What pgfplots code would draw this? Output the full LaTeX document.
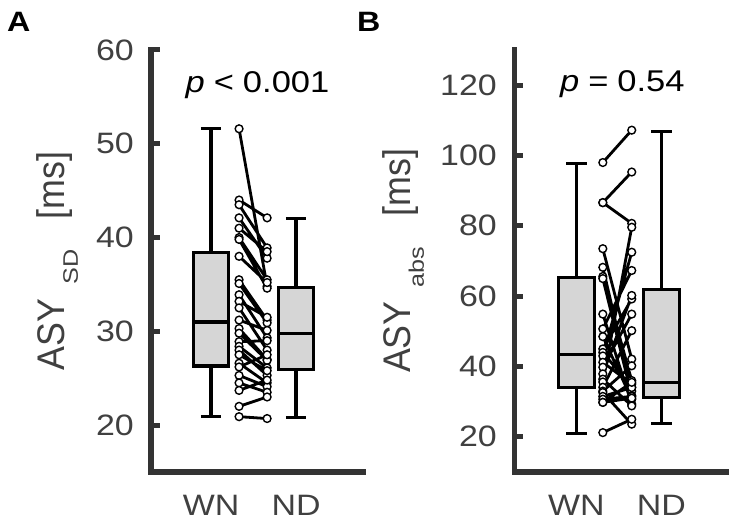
\documentclass[border=0pt]{standalone}
\usepackage{fontspec}
\setmainfont{Liberation Sans}
\newfontfamily\wfont{Liberation Sans}[FakeStretch=1.15]
\newfontfamily\labfont{Liberation Sans}[FakeStretch=0.93]
\newfontfamily\subfont{Liberation Sans}[FakeStretch=1.2]
\usepackage{pgfplots}
\pgfplotsset{compat=1.18}

\definecolor{axgray}{RGB}{51,51,51}
\definecolor{txtgray}{RGB}{64,64,64}
\definecolor{boxgray}{RGB}{214,214,214}

\newcommand{\tickfs}{\wfont\fontsize{29.5bp}{29.5bp}\selectfont}

\pgfplotsset{
  panel/.style={
    scale only axis, width=212bp, height=422bp, anchor=south west,
    axis lines*=left, clip=false,
    axis line style={line width=5bp, color=axgray, line cap=rect},
    xtick={1,2}, xticklabels={WN,ND}, xtick style={draw=none},
    xticklabel style={font=\tickfs, text=txtgray, anchor=base, inner sep=0pt, yshift=-43bp},
    tick align=inside, major tick length=9bp,
    ytick style={line width=5bp, color=axgray},
    yticklabel style={font=\tickfs, text=txtgray, anchor=east, inner sep=0pt, xshift=-17bp},
    /pgf/number format/assume math mode=true,
    ylabel style={font=\labfont\fontsize{38.5bp}{38.5bp}\selectfont, text=txtgray, anchor=base, inner sep=0pt},
  },
  boxfill/.style={fill=boxgray, draw=black, line width=3.2bp, mark=none},
  boxline/.style={black, line width=3.2bp, mark=none, unbounded coords=jump},
  pair/.style={black, line width=2.8bp, mark=*, mark size=3.9bp,
    mark options={fill=white, draw=black, line width=1.4bp}, unbounded coords=jump},
}

\begin{document}
\begin{tikzpicture}
\useasboundingbox (0,0) rectangle (733bp,523bp);

% ---------------- panel A
\begin{axis}[panel, at={(151bp,51bp)},
    xmin=0.294, xmax=2.788, ymin=15, ymax=60,
    ytick={20,30,40,50,60},
    ylabel={ASY\hspace{14bp}\raisebox{-13bp}{\subfont\fontsize{21bp}{21bp}\selectfont SD}\hspace{30bp}[ms]},
    ylabel style={at={(axis description cs:-0.406,0.5)}},
]
% WN box: whiskers 20.9 / 51.6, quartiles 26.3 / 38.4, median 31.0
\addplot[boxline] coordinates {
(1,20.9) (1,26.3) (nan,nan) (1,38.4) (1,51.6) (nan,nan)
(0.88,20.9) (1.12,20.9) (nan,nan) (0.88,51.6) (1.12,51.6)};
\addplot[boxfill] coordinates {(0.79,26.3) (1.21,26.3) (1.21,38.4) (0.79,38.4)} -- cycle;
\addplot[boxline] coordinates {(0.79,31.0) (1.21,31.0)};
% ND box: whiskers 20.8 / 42.0, quartiles 25.9 / 34.7, median 29.8
\addplot[boxline] coordinates {
(2,20.8) (2,25.9) (nan,nan) (2,34.7) (2,42.0) (nan,nan)
(1.88,20.8) (2.12,20.8) (nan,nan) (1.88,42.0) (2.12,42.0)};
\addplot[boxfill] coordinates {(1.79,25.9) (2.21,25.9) (2.21,34.7) (1.79,34.7)} -- cycle;
\addplot[boxline] coordinates {(1.79,29.8) (2.21,29.8)};
% paired subjects
\addplot[pair] coordinates {
(1.33,51.6) (1.66,34.8) (nan,nan)
(1.33,44.0) (1.66,42.1) (nan,nan)
(1.33,43.5) (1.66,38.9) (nan,nan)
(1.33,42.1) (1.66,37.8) (nan,nan)
(1.33,41.0) (1.66,38.5) (nan,nan)
(1.33,40.0) (1.66,35.5) (nan,nan)
(1.33,39.8) (1.66,34.6) (nan,nan)
(1.33,38.0) (1.66,35.2) (nan,nan)
(1.33,35.5) (1.66,31.2) (nan,nan)
(1.33,35.1) (1.66,30.9) (nan,nan)
(1.33,33.9) (1.66,29.3) (nan,nan)
(1.33,33.2) (1.66,31.5) (nan,nan)
(1.33,32.5) (1.66,28.0) (nan,nan)
(1.33,31.2) (1.66,30.1) (nan,nan)
(1.33,30.3) (1.66,27.0) (nan,nan)
(1.33,29.8) (1.66,26.9) (nan,nan)
(1.33,28.9) (1.66,29.0) (nan,nan)
(1.33,28.4) (1.66,26.1) (nan,nan)
(1.33,28.0) (1.66,25.3) (nan,nan)
(1.33,27.5) (1.66,25.8) (nan,nan)
(1.33,26.6) (1.66,24.5) (nan,nan)
(1.33,26.2) (1.66,27.5) (nan,nan)
(1.33,25.3) (1.66,24.1) (nan,nan)
(1.33,24.5) (1.66,23.5) (nan,nan)
(1.33,23.7) (1.66,24.8) (nan,nan)
(1.33,22.0) (1.66,23.0) (nan,nan)
(1.33,20.9) (1.66,20.7)
};
\node[font=\wfont\fontsize{30bp}{30bp}\selectfont, anchor=base, inner sep=0pt]
    at (axis cs:1.547,55.5) {\itshape p\upshape\hspace{9bp}<\hspace{9bp}0.001};
\end{axis}

% ---------------- panel B
\begin{axis}[panel, at={(514bp,51bp)},
    xmin=0.265, xmax=2.759, ymin=10, ymax=130,
    ytick={20,40,60,80,100,120},
    ylabel={ASY\hspace{14bp}\raisebox{-13bp}{\subfont\fontsize{21bp}{21bp}\selectfont abs}\hspace{30bp}[ms]},
    ylabel style={at={(axis description cs:-0.486,0.5)}},
]
% WN box: whiskers 20.9 / 97.8, quartiles 34.0 / 65.3, median 43.4
\addplot[boxline] coordinates {
(1,20.9) (1,34.0) (nan,nan) (1,65.3) (1,97.8) (nan,nan)
(0.88,20.9) (1.12,20.9) (nan,nan) (0.88,97.8) (1.12,97.8)};
\addplot[boxfill] coordinates {(0.79,34.0) (1.21,34.0) (1.21,65.3) (0.79,65.3)} -- cycle;
\addplot[boxline] coordinates {(0.79,43.4) (1.21,43.4)};
% ND box: whiskers 23.7 / 106.9, quartiles 31.1 / 61.9, median 35.4
\addplot[boxline] coordinates {
(2,23.7) (2,31.1) (nan,nan) (2,61.9) (2,106.9) (nan,nan)
(1.88,23.7) (2.12,23.7) (nan,nan) (1.88,106.9) (2.12,106.9)};
\addplot[boxfill] coordinates {(1.79,31.1) (2.21,31.1) (2.21,61.9) (1.79,61.9)} -- cycle;
\addplot[boxline] coordinates {(1.79,35.4) (2.21,35.4)};
% paired subjects
\addplot[pair] coordinates {
(1.31,98.0) (1.65,107.2) (nan,nan)
(1.31,86.6) (1.65,95.3) (nan,nan)
(1.31,86.6) (1.65,80.7) (nan,nan)
(1.31,73.5) (1.65,42.1) (nan,nan)
(1.31,68.2) (1.65,33.0) (nan,nan)
(1.31,65.6) (1.65,36.0) (nan,nan)
(1.31,65.0) (1.65,31.7) (nan,nan)
(1.31,54.9) (1.65,29.3) (nan,nan)
(1.31,50.7) (1.65,67.3) (nan,nan)
(1.31,48.5) (1.65,30.7) (nan,nan)
(1.31,45.0) (1.65,59.2) (nan,nan)
(1.31,44.0) (1.65,34.1) (nan,nan)
(1.31,43.0) (1.65,72.5) (nan,nan)
(1.31,41.2) (1.65,35.0) (nan,nan)
(1.31,39.8) (1.65,54.9) (nan,nan)
(1.31,37.9) (1.65,60.2) (nan,nan)
(1.31,36.4) (1.65,28.8) (nan,nan)
(1.31,35.6) (1.65,79.6) (nan,nan)
(1.31,34.1) (1.65,50.2) (nan,nan)
(1.31,33.0) (1.65,40.2) (nan,nan)
(1.31,32.6) (1.65,23.6) (nan,nan)
(1.31,31.5) (1.65,34.0) (nan,nan)
(1.31,30.7) (1.65,31.5) (nan,nan)
(1.31,29.8) (1.65,35.5) (nan,nan)
(1.31,29.8) (1.65,31.0) (nan,nan)
(1.31,21.2) (1.65,25.0)
};
\node[font=\wfont\fontsize{30bp}{30bp}\selectfont, anchor=base, inner sep=0pt]
    at (axis cs:1.54,118.3) {\itshape p\upshape\hspace{9bp}=\hspace{9bp}0.54};
\end{axis}

% panel letters
\node[font=\wfont\bfseries\fontsize{28bp}{28bp}\selectfont, anchor=base west, inner sep=0pt] at (7bp,491.3bp) {A};
\node[font=\wfont\bfseries\fontsize{28bp}{28bp}\selectfont, anchor=base west, inner sep=0pt] at (357bp,491.3bp) {B};
\end{tikzpicture}
\end{document}
